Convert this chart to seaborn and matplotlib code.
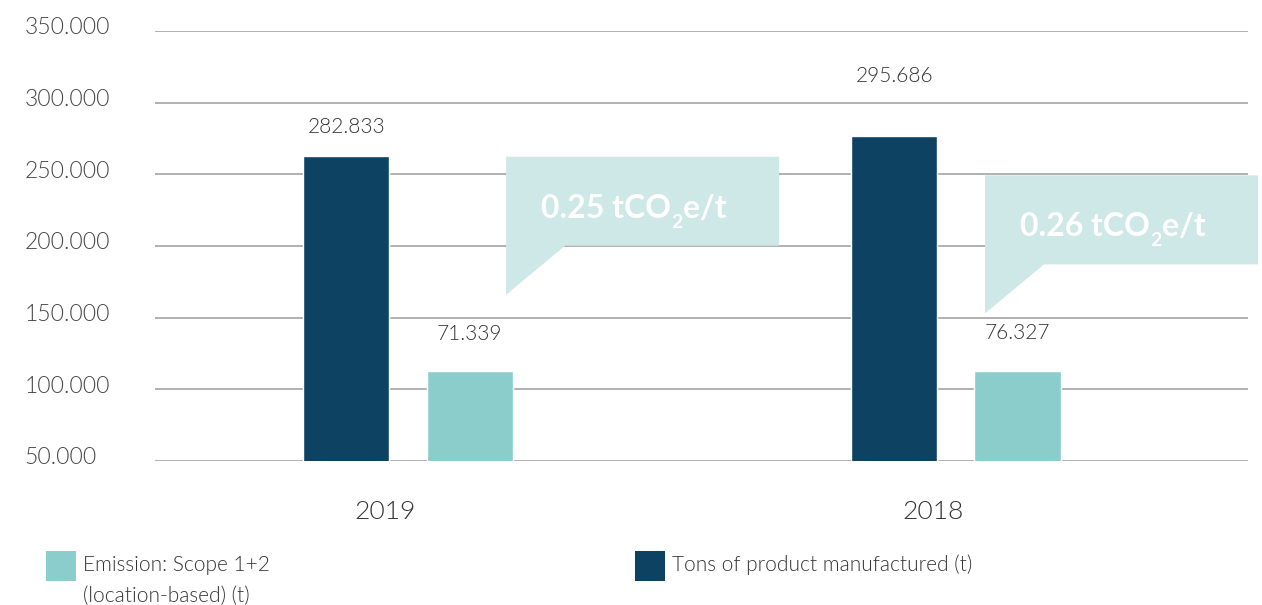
import pandas as pd
import matplotlib.pyplot as plt
import matplotlib.transforms as mtransforms
from matplotlib.patches import Polygon, Rectangle
import matplotlib.ticker as ticker
import seaborn as sns

sns.set_style("white")
plt.rcParams['font.family'] = ['Lato', 'DejaVu Sans']

# data
years = ['2019', '2018']
series = ['Tons of product manufactured (t)', 'Emission: Scope 1+2\n(location-based) (t)']
tons_drawn = [262800, 276700]          # bar heights as drawn
emission_drawn = [112800, 112800]
tons_labels = ['282.833', '295.686']    # printed values
emission_labels = ['71.339', '76.327']
intensity = ['0.25', '0.26']           # tCO2e/t
callout_tips = [(0.179, 166000), (1.053, 153000)]

dark = '#0d4262'
teal = '#8acdca'
pale = '#cde8e6'
LIGHT = 300

df = pd.DataFrame({
    'year': years * 2,
    'series': [series[0]] * 2 + [series[1]] * 2,
    'value': tons_drawn + emission_drawn,
})

W, H = 1262, 605
fig = plt.figure(figsize=(W / 100, H / 100), dpi=100)
ax = fig.add_axes([155 / W, 1 - 461 / H, (1248 - 155) / W, 430 / H])

sns.barplot(data=df, x='year', y='value', hue='series', order=years,
            hue_order=series, palette=[dark, teal], width=0.451, gap=0.30,
            saturation=1, legend=False, ax=ax)

ax.set_ylim(50000, 350000)
ax.set_xlim(-0.4617, 1.533)
ax.yaxis.set_major_locator(ticker.MultipleLocator(50000))
ax.yaxis.set_major_formatter(ticker.FuncFormatter(lambda v, p: f'{v:,.0f}'.replace(',', '.')))
ax.grid(axis='y', color='#aaaaaa', linewidth=1.3)
ax.set_axisbelow(True)
sns.despine(ax=ax, left=True, bottom=True)
ax.set_xlabel('')
ax.set_ylabel('')

# y tick labels left aligned at the figure edge
ax.tick_params(axis='y', length=0, pad=94, labelsize=16.5, labelcolor='#444444')
up = mtransforms.ScaledTranslation(0, 5 / 100, fig.dpi_scale_trans)
for lab in ax.get_yticklabels():
    lab.set_horizontalalignment('left')
    lab.set_fontweight(LIGHT)
    lab.set_transform(lab.get_transform() + up)

# year labels sit a bit left of the bar pair centre
ax.tick_params(axis='x', length=0, pad=28, labelsize=19, labelcolor='#333333')
left = mtransforms.ScaledTranslation(-23 / 100, 0, fig.dpi_scale_trans)
for lab in ax.get_xticklabels():
    lab.set_fontweight(LIGHT)
    lab.set_transform(lab.get_transform() + left)

# value labels
label_offsets = [[29, 60], [37, 38]]   # px above bar top
for cont, texts, offs in zip(ax.containers, [tons_labels, emission_labels], label_offsets):
    for bar, txt, off in zip(cont, texts, offs):
        ax.annotate(txt, (bar.get_x() + bar.get_width() / 2, bar.get_height()),
                    xytext=(0, off * 0.72), textcoords='offset points',
                    ha='center', va='center', fontsize=15, color='#333333',
                    fontweight=LIGHT)

# speech-bubble callouts (shape in px relative to tip, y downwards)
shape = [(0, -49), (0, -138), (273, -138), (273, -49), (118, -49), (59, -49), (0, 0)]
fig.canvas.draw()
renderer = fig.canvas.get_renderer()
for (tx, ty), val in zip(callout_tips, intensity):
    dx, dy = ax.transData.transform((tx, ty))
    verts = [(dx + sx, dy - sy) for sx, sy in shape]
    fig.patches.append(Polygon(verts, closed=True, facecolor=pale, edgecolor='none',
                               transform=None, clip_on=False, zorder=3))
    # text pieces: main, lowered subscript 2, rest
    x = dx + 35
    base = dy + 77
    for piece, size, drop in [(f'{val} tCO', 23, 0), ('2', 14, 10), ('e/t', 23, 0)]:
        t = fig.text(x / W, (base - drop) / H, piece, ha='left', va='baseline',
                     fontsize=size, fontweight='bold', color='white', zorder=4)
        x = t.get_window_extent(renderer).x1 + 0.5

# legend along the bottom, drawn by hand so the swatch sits on the first line
legend_items = [(teal, series[1], 45.5), (dark, series[0], 635)]
for color, label, lx in legend_items:
    fig.patches.append(Rectangle((lx / W, 1 - 581 / H), 30 / W, 30 / H,
                                 transform=fig.transFigure, facecolor=color,
                                 edgecolor='none'))
    for i, line in enumerate(label.split('\n')):
        fig.text((lx + 37.5) / W, 1 - (571 + 31 * i) / H, line, ha='left',
                 va='baseline', fontsize=15, color='#333333', fontweight=LIGHT)

fig.savefig('out.png', dpi=100)
